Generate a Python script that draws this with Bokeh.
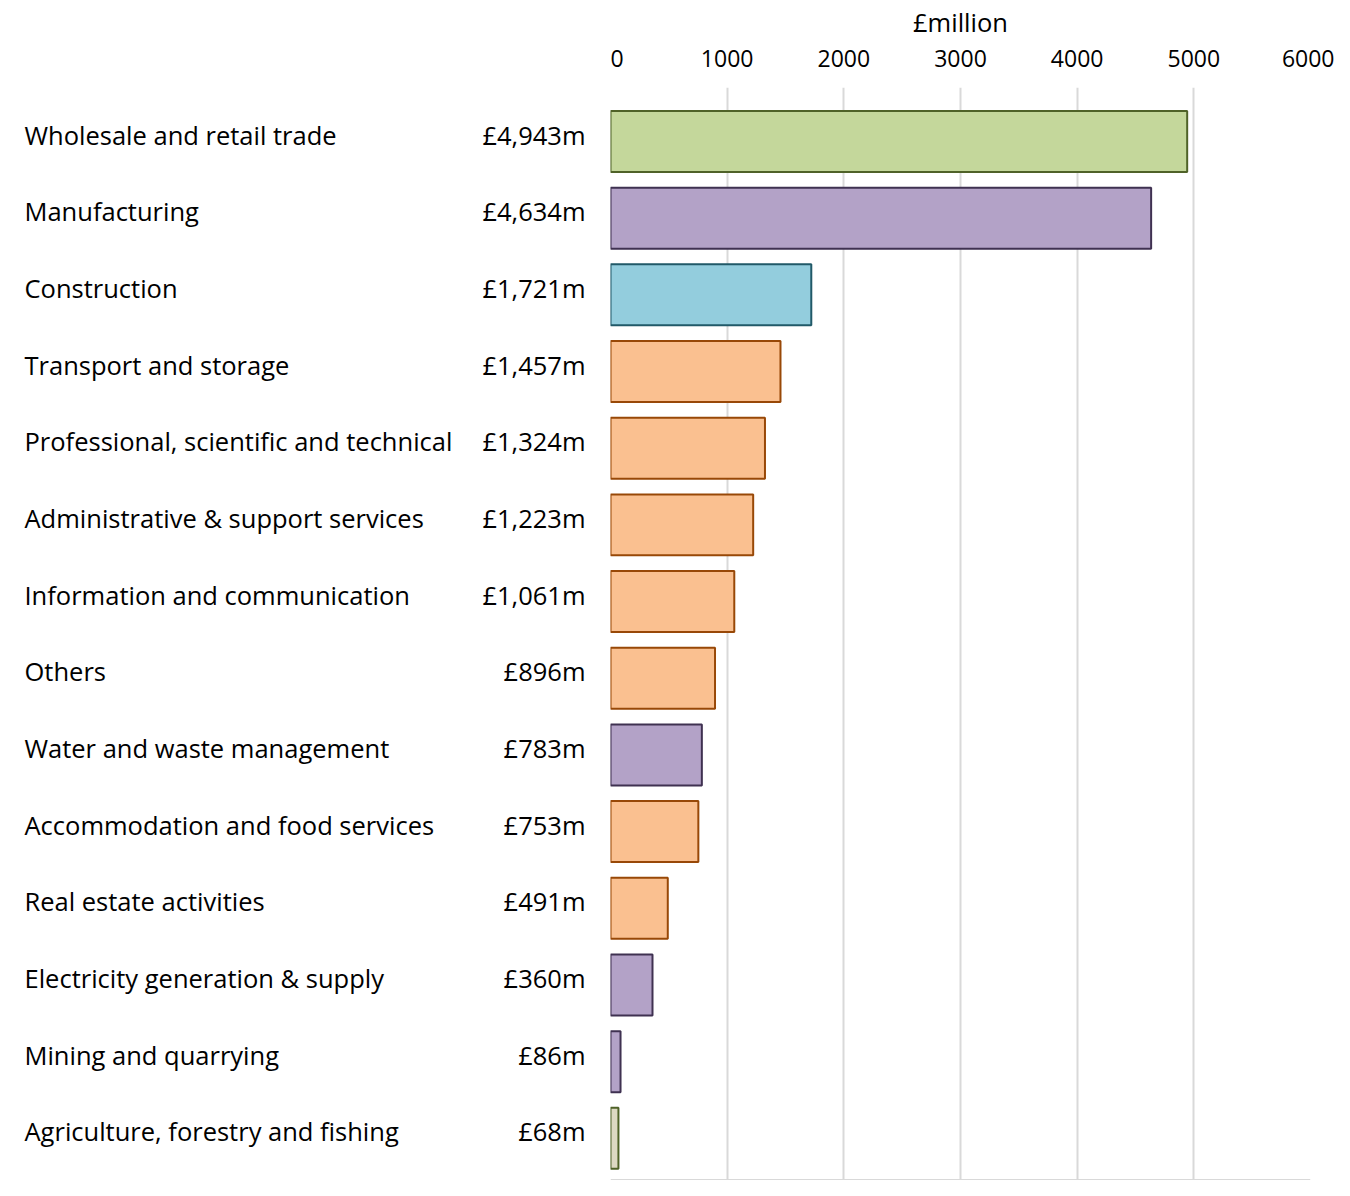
from bokeh.plotting import figure
from bokeh.layouts import row
from bokeh.models import ColumnDataSource, Range1d, Span, FixedTicker
from bokeh.core.properties import value
from bokeh.embed import file_html
from bokeh.resources import INLINE

categories = ["Wholesale and retail trade", "Manufacturing", "Construction",
              "Transport and storage", "Professional, scientific and technical",
              "Administrative & support services", "Information and communication",
              "Others", "Water and waste management", "Accommodation and food services",
              "Real estate activities", "Electricity generation & supply",
              "Mining and quarrying", "Agriculture, forestry and fishing"]
values = [4943, 4634, 1721, 1457, 1324, 1223, 1061, 896, 783, 753, 491, 360, 86, 68]
value_labels = ["£4,943m", "£4,634m", "£1,721m", "£1,457m", "£1,324m", "£1,223m",
                "£1,061m", "£896m", "£783m", "£753m", "£491m", "£360m", "£86m", "£68m"]
groups = ["green", "purple", "blue", "orange", "orange", "orange", "orange",
          "orange", "purple", "orange", "orange", "purple", "purple", "beige"]
x_ticks = [0, 1000, 2000, 3000, 4000, 5000, 6000]

fills = {"green": "#C4D79B", "purple": "#B3A2C7", "blue": "#93CDDD",
         "orange": "#FAC090", "beige": "#DDD9C3"}
lines = {"green": "#4F6228", "purple": "#3F3151", "blue": "#215968",
         "orange": "#984807", "beige": "#4F6228"}

pos = list(range(len(categories)))
src = ColumnDataSource(dict(
    y=pos, ylab=[p - 0.09 for p in pos], val=values, cat=categories, vlab=value_labels,
    fill=[fills[g] for g in groups], line=[lines[g] for g in groups]))

FONT = "Open Sans"
H = 1180
TOP = 87
Y_BOTTOM = 13.55
y_range = Range1d(Y_BOTTOM, -0.704)

left = figure(width=610, height=H, x_range=Range1d(0, 610), y_range=y_range,
              output_backend="svg", toolbar_location=None,
              min_border_top=TOP, min_border_bottom=0, min_border_left=0, min_border_right=0)
left.axis.visible = False
left.grid.visible = False
left.outline_line_color = None
left.text(x=24, y="ylab", text="cat", source=src, text_font=value(FONT),
          text_font_size="25.5px", text_align="left", text_baseline="middle", text_color="#000000")
left.text(x=585, y="ylab", text="vlab", source=src, text_font=value(FONT),
          text_font_size="25.5px", text_align="right", text_baseline="middle", text_color="#000000")

p = figure(width=724, height=H, x_range=Range1d(0, 6000), y_range=y_range,
           x_axis_location="above", output_backend="svg", toolbar_location=None,
           min_border_top=TOP, min_border_bottom=0, min_border_left=0, min_border_right=24)
p.hbar(y="y", right="val", left=0, height=0.795, source=src,
       fill_color="fill", line_color="line", line_width=2)
p.yaxis.visible = False
p.ygrid.visible = False
p.xgrid.grid_line_color = "#D9D9D9"
p.xgrid.grid_line_width = 2
p.xaxis.ticker = FixedTicker(ticks=x_ticks)
p.xaxis.axis_line_color = None
p.xaxis.major_tick_line_color = None
p.xaxis.minor_tick_line_color = None
p.xaxis.major_label_text_font = FONT
p.xaxis.major_label_text_font_size = "23px"
p.xaxis.major_label_text_color = "#000000"
p.xaxis.major_label_standoff = 15
p.xaxis.axis_label = "£million"
p.xaxis.axis_label_text_font = FONT
p.xaxis.axis_label_text_font_size = "25.5px"
p.xaxis.axis_label_text_font_style = "normal"
p.xaxis.axis_label_text_color = "#000000"
p.xaxis.axis_label_standoff = 8
p.outline_line_color = None
p.add_layout(Span(location=Y_BOTTOM, dimension="width", line_color="#D9D9D9", line_width=3))

layout = row(left, p, spacing=0)
open("out.html", "w").write(file_html(layout, INLINE))
